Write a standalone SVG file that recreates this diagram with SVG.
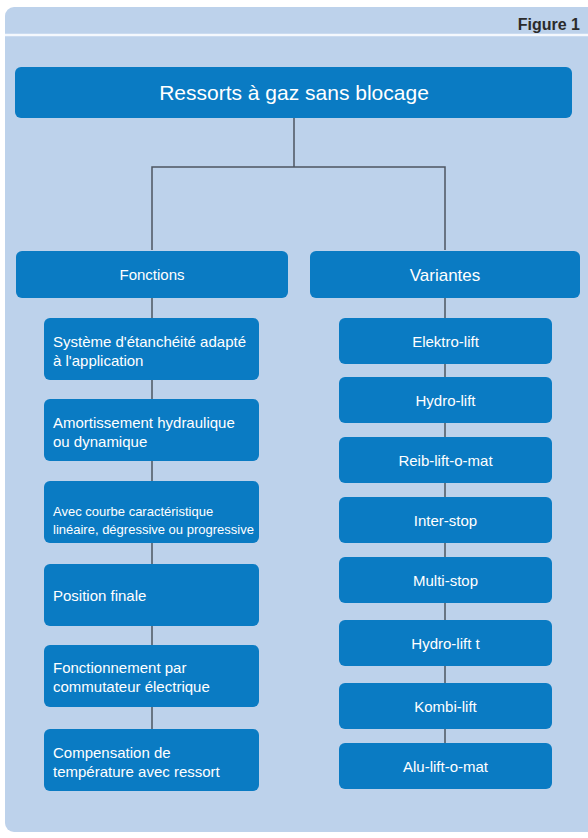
<svg xmlns="http://www.w3.org/2000/svg" width="588" height="838" viewBox="0 0 588 838">
  <style>
    .panel { fill: #bdd2eb; }
    .box { fill: #0a7bc3; }
    .link { stroke: #4d5661; stroke-width: 1.5; fill: none; }
    text { font-family: "Liberation Sans", Arial, sans-serif; fill: #ffffff; }
    .title { font-size: 21px; text-anchor: middle; }
    .head { font-size: 15px; text-anchor: middle; }
    .var { font-size: 15px; text-anchor: middle; }
    .fn { font-size: 15px; }
    .fn-small { font-size: 13px; }
    .fig { font-size: 16px; font-weight: bold; fill: #2b2b2b; text-anchor: end; }
  </style>

  <rect x="0" y="0" width="588" height="838" fill="#ffffff"/>
  <!-- background panel with header strip -->
  <rect class="panel" x="5" y="7" width="600" height="825" rx="9"/>
  <line x1="5" y1="35" x2="588" y2="35" stroke="#f4f8fd" stroke-width="2.5"/>
  <text class="fig" x="580" y="30">Figure 1</text>

  <!-- connectors -->
  <g id="connectors">
    <path class="link" d="M294 118 V167 M152 250 V167 H445 V250"/>
    <path class="link" d="M152 298 V729"/>
    <path class="link" d="M445 298 V743"/>
  </g>

  <g id="root">
    <rect class="box" x="15" y="67" width="557" height="51" rx="6"/>
    <text class="title" x="294" y="100">Ressorts à gaz sans blocage</text>
  </g>

  <g id="fonctions">
    <rect class="box" x="16" y="251" width="272" height="47" rx="6"/>
    <text class="head" x="152" y="280">Fonctions</text>
  </g>
  <g id="variantes">
    <rect class="box" x="310" y="251" width="270" height="47" rx="6"/>
    <text class="head" x="445" y="281" style="font-size:17px">Variantes</text>
  </g>

  <!-- Fonctions column -->
  <g id="fn-etancheite">
    <rect class="box" x="44" y="318" width="215" height="62" rx="6"/>
    <text class="fn" x="53" y="347">Système d'étanchéité adapté</text>
    <text class="fn" x="53" y="366">à l'application</text>
  </g>
  <g id="fn-amortissement">
    <rect class="box" x="44" y="399" width="215" height="62" rx="6"/>
    <text class="fn" x="53" y="428">Amortissement hydraulique</text>
    <text class="fn" x="53" y="447">ou dynamique</text>
  </g>
  <g id="fn-courbe">
    <rect class="box" x="44" y="481" width="215" height="62" rx="6"/>
    <text class="fn-small" x="53" y="516">Avec courbe caractéristique</text>
    <text class="fn-small" x="53" y="534">linéaire, dégressive ou progressive</text>
  </g>
  <g id="fn-position">
    <rect class="box" x="44" y="564" width="215" height="62" rx="6"/>
    <text class="fn" x="53" y="601">Position finale</text>
  </g>
  <g id="fn-commutateur">
    <rect class="box" x="44" y="645" width="215" height="62" rx="6"/>
    <text class="fn" x="53" y="673">Fonctionnement par</text>
    <text class="fn" x="53" y="692">commutateur électrique</text>
  </g>
  <g id="fn-compensation">
    <rect class="box" x="44" y="729" width="215" height="62" rx="6"/>
    <text class="fn" x="53" y="758">Compensation de</text>
    <text class="fn" x="53" y="777">température avec ressort</text>
  </g>

  <!-- Variantes column -->
  <g id="v-elektro">
    <rect class="box" x="339" y="318" width="213" height="46" rx="6"/>
    <text class="var" x="445.5" y="347">Elektro-lift</text>
  </g>
  <g id="v-hydro">
    <rect class="box" x="339" y="377" width="213" height="46" rx="6"/>
    <text class="var" x="445.5" y="406">Hydro-lift</text>
  </g>
  <g id="v-reib">
    <rect class="box" x="339" y="437" width="213" height="46" rx="6"/>
    <text class="var" x="445.5" y="466">Reib-lift-o-mat</text>
  </g>
  <g id="v-inter">
    <rect class="box" x="339" y="497" width="213" height="46" rx="6"/>
    <text class="var" x="445.5" y="526">Inter-stop</text>
  </g>
  <g id="v-multi">
    <rect class="box" x="339" y="557" width="213" height="46" rx="6"/>
    <text class="var" x="445.5" y="586">Multi-stop</text>
  </g>
  <g id="v-hydro-t">
    <rect class="box" x="339" y="620" width="213" height="46" rx="6"/>
    <text class="var" x="445.5" y="649">Hydro-lift t</text>
  </g>
  <g id="v-kombi">
    <rect class="box" x="339" y="683" width="213" height="46" rx="6"/>
    <text class="var" x="445.5" y="712">Kombi-lift</text>
  </g>
  <g id="v-alu">
    <rect class="box" x="339" y="743" width="213" height="46" rx="6"/>
    <text class="var" x="445.5" y="772">Alu-lift-o-mat</text>
  </g>
</svg>
